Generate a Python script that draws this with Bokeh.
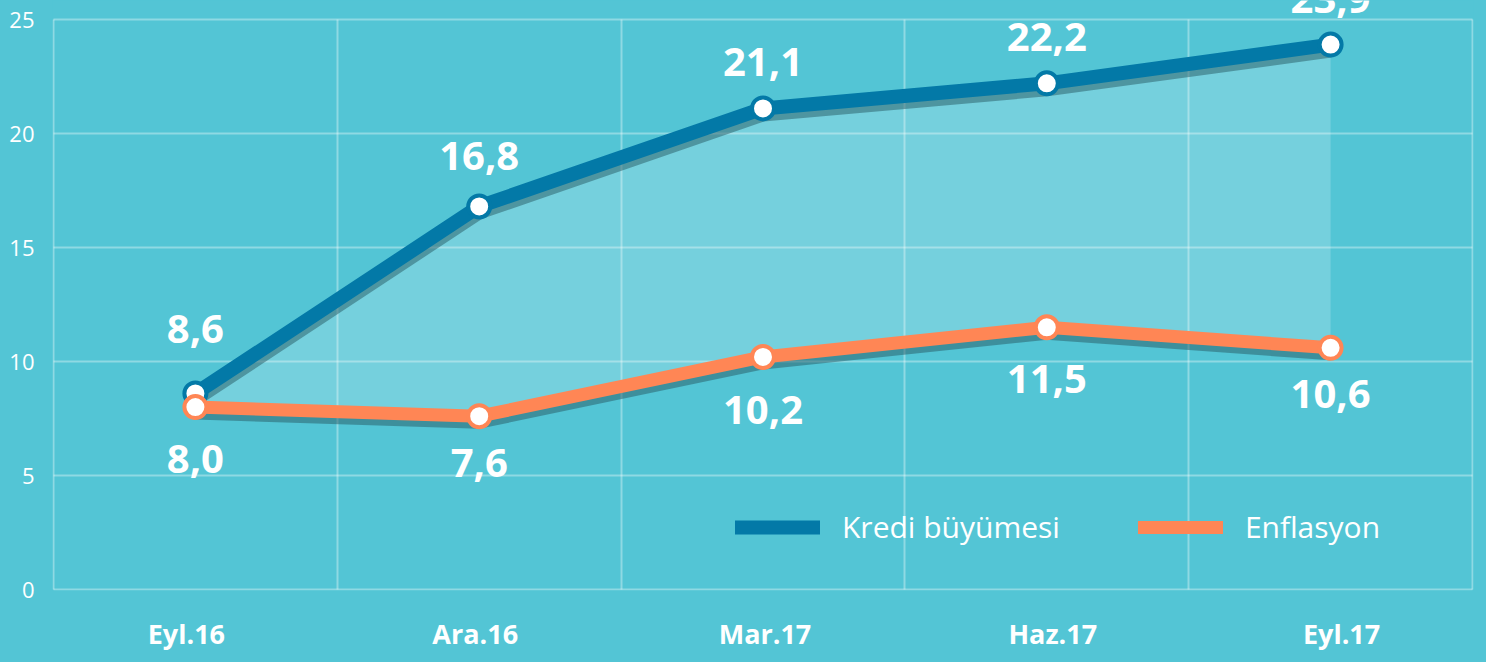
from bokeh.plotting import figure
from bokeh.models import (ColumnDataSource, Range1d, FixedTicker, LabelSet, Legend, LegendItem)
from bokeh.core.properties import value
from bokeh.embed import file_html
from bokeh.resources import INLINE

categories = ["Eyl.16", "Ara.16", "Mar.17", "Haz.17", "Eyl.17"]
kredi = [8.6, 16.8, 21.1, 22.2, 23.9]
enflasyon = [8.0, 7.6, 10.2, 11.5, 10.6]
kredi_labels = ["8,6", "16,8", "21,1", "22,2", "23,9"]
enflasyon_labels = ["8,0", "7,6", "10,2", "11,5", "10,6"]
y_ticks = [0, 5, 10, 15, 20, 25]

BG = "#53C5D5"
BLUE = "#0379A7"
ORANGE = "#FF8655"
FONT = "Open Sans"

# layout / style settings (screen pixels)
PX_PER_UNIT = 22.8          # vertical scale
TOP_PX = 19                 # space above the y=25 line
PAD_PX = 1                  # keep frame edge lines fully visible
label_shift_px = [-9, -4, 2, 6, 11]   # category label nudges

n = len(categories)
xs = [i + 0.5 for i in range(n)]
xw = (1486 - 53 - 14) / n
x_pad = PAD_PX / xw
shadow = 6 / PX_PER_UNIT
src = ColumnDataSource(dict(
    x=xs, k=kredi, e=enflasyon,
    ks=[v - shadow for v in kredi], es=[v - shadow for v in enflasyon],
    kl=kredi_labels, el=enflasyon_labels,
    koff=[64, 50, 46, 46, 46], eoff=[-52, -47, -53, -52, -46],
))

p = figure(width=1486, height=662, output_backend="svg", toolbar_location=None,
           x_range=Range1d(-x_pad, n + x_pad),
           y_range=Range1d(-PAD_PX / PX_PER_UNIT, y_ticks[-1] + TOP_PX / PX_PER_UNIT),
           min_border_left=52, min_border_right=13, min_border_top=0, min_border_bottom=72)
p.background_fill_color = BG
p.border_fill_color = BG
p.outline_line_color = None

# grids
p.xgrid.ticker = FixedTicker(ticks=list(range(n + 1)))
p.ygrid.ticker = FixedTicker(ticks=y_ticks)
if "cross_bounds" in p.xgrid[0].properties():
    p.xgrid.cross_bounds = (y_ticks[0], y_ticks[-1])
    p.ygrid.cross_bounds = (0, n)
for g in (p.xgrid, p.ygrid):
    g.grid_line_color = "white"
    g.grid_line_alpha = 0.35
    g.grid_line_width = 2

# axes
tick_pos = [x + d / xw for x, d in zip(xs, label_shift_px)]
p.xaxis.ticker = FixedTicker(ticks=tick_pos)
p.xaxis.major_label_overrides = {t: c for t, c in zip(tick_pos, categories)}
p.yaxis.ticker = FixedTicker(ticks=y_ticks)
for ax in (p.xaxis[0], p.yaxis[0]):
    ax.axis_line_color = None
    ax.major_tick_line_color = None
    ax.minor_tick_line_color = None
    ax.major_tick_out = 0
    ax.major_tick_in = 0
    ax.major_label_text_color = "white"
    ax.major_label_text_font = FONT
p.yaxis.major_label_text_font_size = "22px"
p.yaxis.major_label_standoff = 18
p.xaxis.major_label_text_font_size = "27px"
p.xaxis.major_label_text_font_style = "bold"
p.xaxis.major_label_standoff = 24

# fill between
p.varea(x="x", y1="e", y2="k", source=src, fill_color="white", fill_alpha=0.2)

# shadows
p.line("x", "ks", source=src, line_color="#285A64", line_alpha=0.5, line_width=14, line_join="round")
p.line("x", "es", source=src, line_color="#285A64", line_alpha=0.5, line_width=13, line_join="round")

# lines
lk = p.line("x", "k", source=src, line_color=BLUE, line_width=14, line_join="round", line_cap="round")
le = p.line("x", "e", source=src, line_color=ORANGE, line_width=13, line_join="round", line_cap="round")
p.scatter("x", "k", source=src, size=22, fill_color="white", line_color=BLUE, line_width=4)
p.scatter("x", "e", source=src, size=22, fill_color="white", line_color=ORANGE, line_width=4)

# labels
for col, ycol, off in (("kl", "k", "koff"), ("el", "e", "eoff")):
    p.add_layout(LabelSet(x="x", y=ycol, text=col, source=src,
                          y_offset=off, text_align="center", text_baseline="middle",
                          text_color="white", text_font=value(FONT), text_font_size="40px",
                          text_font_style="bold"))

legend = Legend(items=[LegendItem(label="Kredi büyümesi", renderers=[lk]),
                       LegendItem(label="Enflasyon", renderers=[le])],
                orientation="horizontal", location=(683, 43))
legend.background_fill_alpha = 0
legend.border_line_color = None
legend.padding = 0
legend.margin = 0
legend.glyph_width = 85
legend.glyph_height = 20
legend.label_standoff = 22
legend.spacing = 78
legend.label_text_color = "white"
legend.label_text_font = FONT
legend.label_text_font_size = "30px"
p.add_layout(legend)

html = file_html(p, INLINE)
html = html.replace("<head>", "<head><style>html,body{background:%s;}</style>" % BG, 1)
open("out.html", "w").write(html)
